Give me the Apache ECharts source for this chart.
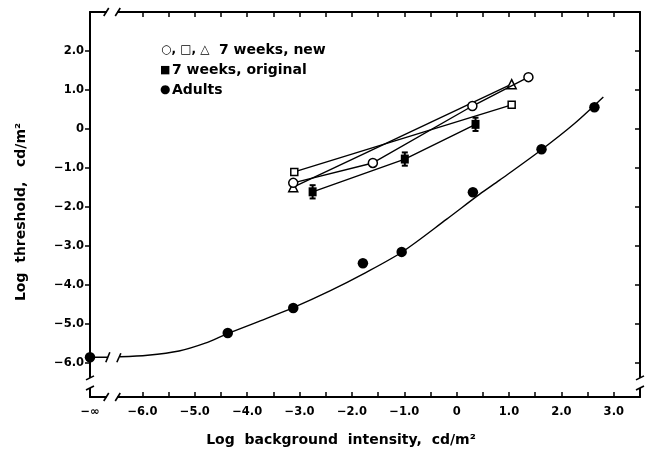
<!DOCTYPE html>
<html>
<head>
<meta charset="utf-8">
<script src="https://cdn.jsdelivr.net/npm/echarts@6/dist/echarts.min.js"></script>
<style>
  html, body { margin: 0; padding: 0; background: #fff; }
  #chart { width: 647px; height: 453px; }
</style>
</head>
<body>
<div id="chart"></div>
<script>
// Log background intensity (x) vs log threshold (y), cd/m^2.
// x = -7 stands for the "-∞" (dark) background, drawn on the left axis.

// Adults (filled circles)
const adultsX = [-7, -4.37, -3.12, -1.79, -1.05, 0.31, 1.62, 2.63];
const adultsY = [-5.85, -5.23, -4.59, -3.44, -3.15, -1.62, -0.52, 0.56];

// Smooth template curve through the adult data
const fitX = [-6.43, -5.9, -5.3, -4.8, -4.38, -3.75, -3.12, -2.42, -1.79, -1.05, -0.19, 0.44, 0.82, 1.62, 2.25, 2.8];
const fitY = [-5.84, -5.80, -5.69, -5.49, -5.25, -4.92, -4.58, -4.15, -3.72, -3.16, -2.31, -1.67, -1.31, -0.53, 0.14, 0.82];

// 7 weeks, new: circles, squares, triangles
const circX = [-3.12, -1.6, 0.30, 1.37];
const circY = [-1.38, -0.87, 0.59, 1.33];
const sqX = [-3.10, 1.05];
const sqY = [-1.10, 0.62];
const triX = [-3.12, 1.05];
const triY = [-1.49, 1.15];

// 7 weeks, original (filled squares with error bars)
const origX = [-2.75, -0.99, 0.36];
const origY = [-1.61, -0.77, 0.12];
const origErr = [0.17, 0.17, 0.17];

// Axis ticks and labels
const xLabelVals = [-7, -6, -5, -4, -3, -2, -1, 0, 1, 2, 3];
const xTickVals = [-6, -5.5, -5, -4.5, -4, -3.5, -3, -2.5, -2, -1.5, -1, -0.5, 0, 0.5, 1, 1.5, 2, 2.5, 3];
const yLabelVals = [2, 1, 0, -1, -2, -3, -4, -5, -6];
const yTickVals = [2, 1, 0, -1, -2, -3, -4, -5, -6];

const X_MIN = -7, X_MAX = 3.5, Y_MIN = -6.87, Y_MAX = 3;
const FONT = 'DejaVu Sans';
const zip = (xs, ys) => xs.map((x, i) => [x, ys[i]]);

// "-∞" for the dark background, true minus signs elsewhere
const fmt = v => {
  if (v === -7) return '\u2212\u221e';
  if (v === 0) return '0';
  const s = Math.abs(v).toFixed(1);
  return v < 0 ? '\u2212' + s : s;
};

const axisLineStyle = { onZero: false, lineStyle: { color: '#000', width: 2 } };
const labelStyle = { color: '#000', fontFamily: FONT, fontWeight: 'bold', fontSize: 11.5 };
const tickLine = { color: '#000', width: 1.5 };

const chart = echarts.init(document.getElementById('chart'), null, { renderer: 'canvas' });

const openItem = { color: '#fff', borderColor: '#000', borderWidth: 1.5, opacity: 1 };
const lineSt = { color: '#000', width: 1.4 };

chart.setOption({
  animation: false,
  backgroundColor: '#fff',
  grid: { left: 90, right: 7, top: 12, bottom: 56, containLabel: false },
  xAxis: [
    {
      type: 'value', min: X_MIN, max: X_MAX, position: 'bottom',
      axisLine: axisLineStyle,
      axisTick: { customValues: xTickVals, inside: true, length: 5, lineStyle: tickLine },
      axisLabel: Object.assign({ customValues: xLabelVals, formatter: fmt, margin: 9 }, labelStyle),
      splitLine: { show: false }
    },
    {
      type: 'value', min: X_MIN, max: X_MAX, position: 'top',
      axisLine: axisLineStyle,
      axisTick: { customValues: xTickVals, inside: true, length: 5, lineStyle: tickLine },
      axisLabel: { show: false },
      splitLine: { show: false }
    }
  ],
  yAxis: [
    {
      type: 'value', min: Y_MIN, max: Y_MAX, position: 'left',
      axisLine: axisLineStyle,
      axisTick: { customValues: yTickVals, inside: false, length: 5, lineStyle: tickLine },
      axisLabel: Object.assign({ customValues: yLabelVals, formatter: fmt, margin: 6 }, labelStyle),
      splitLine: { show: false }
    },
    {
      type: 'value', min: Y_MIN, max: Y_MAX, position: 'right',
      axisLine: axisLineStyle,
      axisTick: { customValues: yTickVals, inside: true, length: 5, lineStyle: tickLine },
      axisLabel: { show: false },
      splitLine: { show: false }
    }
  ],
  series: [
    {
      name: 'Adults fit', type: 'line', data: zip(fitX, fitY),
      smooth: 0.3, symbol: 'none', lineStyle: lineSt, z: 2
    },
    {
      name: 'Adults dark', type: 'line',
      data: [[adultsX[0], adultsY[0]], [-6.66, adultsY[0]]],
      symbol: 'none', lineStyle: lineSt, z: 2
    },
    {
      name: '7 weeks, original', type: 'line', data: zip(origX, origY),
      symbol: 'rect', symbolSize: [8, 9], itemStyle: { color: '#000', opacity: 1 }, lineStyle: lineSt, z: 3
    },
    {
      name: 'error', type: 'custom', coordinateSystem: 'cartesian2d', z: 3,
      data: origX.map((x, i) => [x, origY[i] - origErr[i], origY[i] + origErr[i]]),
      renderItem: (params, api) => {
        const lo = api.coord([api.value(0), api.value(1)]);
        const hi = api.coord([api.value(0), api.value(2)]);
        const s = { stroke: '#000', lineWidth: 2 };
        return {
          type: 'group', children: [
            { type: 'line', shape: { x1: lo[0], y1: lo[1], x2: hi[0], y2: hi[1] }, style: s },
            { type: 'line', shape: { x1: lo[0] - 3, y1: lo[1], x2: lo[0] + 3, y2: lo[1] }, style: s },
            { type: 'line', shape: { x1: hi[0] - 3, y1: hi[1], x2: hi[0] + 3, y2: hi[1] }, style: s }
          ]
        };
      }
    },
    {
      name: 'squares', type: 'line', data: zip(sqX, sqY),
      symbol: 'rect', symbolSize: 7, itemStyle: openItem, lineStyle: lineSt, z: 4
    },
    {
      name: 'triangles', type: 'line', data: zip(triX, triY),
      symbol: 'triangle', symbolSize: 9, itemStyle: openItem, lineStyle: lineSt, z: 4
    },
    {
      name: 'circles', type: 'line', data: zip(circX, circY),
      symbol: 'circle', symbolSize: 9, itemStyle: openItem, lineStyle: lineSt, z: 5
    },
    {
      name: 'Adults', type: 'scatter', data: zip(adultsX, adultsY), clip: false,
      symbol: 'circle', symbolSize: 10.5, itemStyle: { color: '#000', opacity: 1 }, z: 6
    }
  ]
});

// Axis breaks, legend and axis titles
const px = (x, y) => chart.convertToPixel({ gridIndex: 0 }, [x, y]);
const g = [];
const blk = { stroke: '#000', lineWidth: 1.6 };
const seg = (x1, y1, x2, y2, st) => ({ type: 'line', z: 101, shape: { x1, y1, x2, y2 }, style: st || blk });
const wipe = (x, y, w, h) => ({ type: 'rect', z: 100, shape: { x, y, width: w, height: h }, style: { fill: '#fff' } });

// horizontal axes break (bottom and top)
const bx1 = px(-6.68, 0)[0], bx2 = px(-6.48, 0)[0];
const yBot = px(0, Y_MIN)[1], yTop = px(0, Y_MAX)[1];
[yBot, yTop].forEach(yy => {
  g.push(wipe(bx1, yy - 4, bx2 - bx1, 8));
  g.push(seg(bx1 - 3, yy + 4, bx1 + 2, yy - 4));
  g.push(seg(bx2 - 2, yy + 4, bx2 + 3, yy - 4));
});
// vertical axes break (left and right)
const by1 = px(0, -6.38)[1], by2 = px(0, -6.64)[1];
const xL = px(X_MIN, 0)[0], xR = px(X_MAX, 0)[0];
[xL, xR].forEach(xx => {
  g.push(wipe(xx - 4, by1, 8, by2 - by1));
  g.push(seg(xx - 4, by1 + 2, xx + 4, by1 - 2));
  g.push(seg(xx - 4, by2 + 2, xx + 4, by2 - 2));
});
// break in the adult curve
const cy = px(0, adultsY[0])[1];
const c1 = px(-6.66, 0)[0], c2 = px(-6.43, 0)[0];
g.push(seg(c1 - 2, cy + 5, c1 + 2, cy - 5));
g.push(seg(c2 - 3, cy + 5, c2 + 1, cy - 4));

// legend
const legFont = 'bold 14px "DejaVu Sans"';
const txt = (x, y, t, font) => ({ type: 'text', z: 102, x, y, style: { text: t, font: font || legFont, fill: '#000', verticalAlign: 'middle', align: 'left' } });
g.push(txt(161, 50, '\u25cb, \u25a1, \u25b3', 'bold 12px "DejaVu Sans"'));
g.push(txt(219, 50, '7 weeks, new'));
g.push(txt(160, 70, '\u25a0', 'bold 11px "DejaVu Sans"'));
g.push(txt(172, 70, '7 weeks, original'));
g.push(txt(160, 90, '\u25cf', 'bold 12px "DejaVu Sans"'));
g.push(txt(172, 90, 'Adults'));

// axis titles
g.push({ type: 'text', z: 102, x: 341, y: 440, style: { text: 'Log  background  intensity,  cd/m\u00b2', font: 'bold 14px "DejaVu Sans"', fill: '#000', align: 'center', verticalAlign: 'middle' } });
g.push({ type: 'text', z: 102, x: 21, y: 212, rotation: Math.PI / 2, style: { text: 'Log  threshold,   cd/m\u00b2', font: 'bold 14px "DejaVu Sans"', fill: '#000', align: 'center', verticalAlign: 'middle' } });

chart.setOption({ graphic: { elements: g } });
</script>
</body>
</html>
